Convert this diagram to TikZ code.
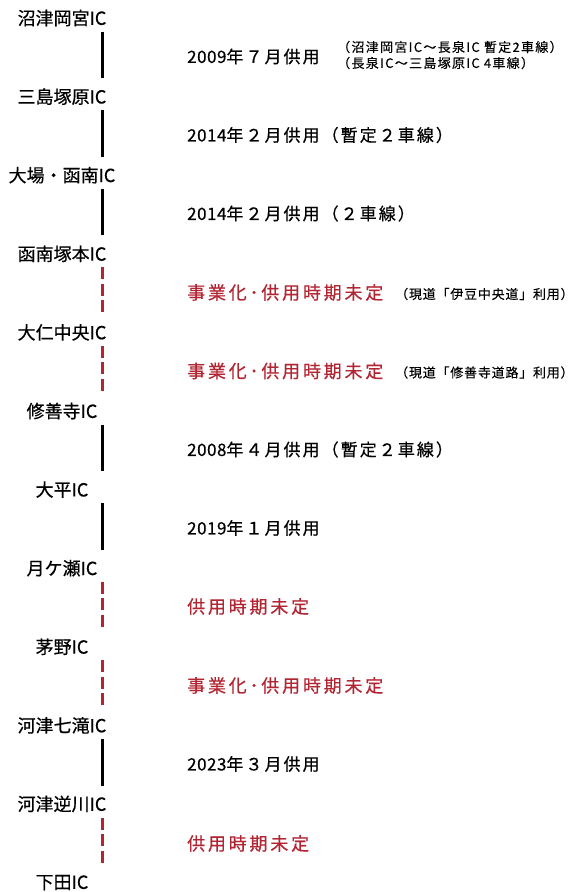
\documentclass[tikz,border=0pt]{standalone}
\usepackage{fontspec}
\setmainfont{Noto Sans CJK JP}
\newfontfamily\jpic[FakeBold=0.5]{Noto Sans CJK JP}
\newfontfamily\jpmain[LetterSpace=12,FakeBold=0.5]{Noto Sans CJK JP}
\newfontfamily\jpdig[LetterSpace=3,FakeBold=0.5]{Noto Sans CJK JP}
\newfontfamily\jpplan[LetterSpace=15.5,FakeBold=0.5]{Noto Sans CJK JP}
\newfontfamily\jpnote[LetterSpace=10,FakeBold=0.3]{Noto Sans CJK JP}
\newfontfamily\jpnoteb[LetterSpace=6,FakeBold=0.3]{Noto Sans CJK JP}
\newcommand{\yr}[1]{{\jpdig #1}}
\definecolor{plan}{RGB}{178,38,52}
\begin{document}
\begin{tikzpicture}[x=1pt,y=-1pt,
  ic/.style={anchor=center,inner sep=0pt,font=\jpic\fontsize{18}{18}\selectfont},
  sect/.style={anchor=west,inner sep=0pt,font=\jpmain\fontsize{17}{17}\selectfont},
  plansect/.style={anchor=west,inner sep=0pt,text=plan,font=\jpplan\fontsize{18}{18}\selectfont},
  note/.style={anchor=west,inner sep=0pt,font=\jpnote\fontsize{13}{13}\selectfont},
  noteb/.style={anchor=west,inner sep=0pt,font=\jpnoteb\fontsize{13}{13}\selectfont},
  done/.style={line width=3pt,black},
  todo/.style={line width=3pt,plan,dash pattern=on 12pt off 4.5pt}]
\useasboundingbox (0,0) rectangle (573,892);
\def\lx{102.5}
\node[ic] (ic1) at (62,18) {沼津岡宮IC};
\node[ic] (ic2) at (62,96.6) {三島塚原IC};
\node[ic] (ic3) at (62,175.2) {大場・函南IC};
\node[ic] (ic4) at (62,253.8) {函南塚本IC};
\node[ic] (ic5) at (62,332.4) {大仁中央IC};
\node[ic] (ic6) at (62,411) {修善寺IC};
\node[ic] (ic7) at (62,489.6) {大平IC};
\node[ic] (ic8) at (62,568.2) {月ケ瀬IC};
\node[ic] (ic9) at (62,646.8) {茅野IC};
\node[ic] (ic10) at (62,725.4) {河津七滝IC};
\node[ic] (ic11) at (62,804) {河津逆川IC};
\node[ic] (ic12) at (62,882.6) {下田IC};
\foreach \i in {1,...,12}{
  \coordinate (b\i) at ([yshift=-13.5pt]ic\i.center -| \lx,0);
  \coordinate (t\i) at ([yshift=18.5pt]ic\i.center -| \lx,0);
}
\draw[done] (b1) -- (t2);
\draw[done] (b2) -- (t3);
\draw[done] (b3) -- (t4);
\draw[todo] (b4) -- (t5);
\draw[todo] (b5) -- (t6);
\draw[done] (b6) -- (t7);
\draw[done] (b7) -- (t8);
\draw[todo] (b8) -- (t9);
\draw[todo] (b9) -- (t10);
\draw[done] (b10) -- (t11);
\draw[todo] (b11) -- (t12);
\node[sect] (s1) at (187,56.5) {\yr{2009}年７月供用};
\node[note] (n1a) at (337,47) {（沼津岡宮IC～長泉IC 暫定2車線）};
\node[note] (n1b) at (337,63) {（長泉IC～三島塚原IC 4車線）};
\node[sect] (s2) at (187,135) {\yr{2014}年２月供用（暫定２車線）};
\node[sect] (s3) at (187,213.5) {\yr{2014}年２月供用（２車線）};
\node[plansect] (s4) at (187,292.5) {事業化･供用時期未定};
\node[noteb] (n4) at (395,294) {（現道「伊豆中央道」利用）};
\node[plansect] (s5) at (187,371) {事業化･供用時期未定};
\node[noteb] (n5) at (395,372.5) {（現道「修善寺道路」利用）};
\node[sect] (s6) at (187,449.5) {\yr{2008}年４月供用（暫定２車線）};
\node[sect] (s7) at (187,528) {\yr{2019}年１月供用};
\node[plansect] (s8) at (187,606.5) {供用時期未定};
\node[plansect] (s9) at (187,685.5) {事業化･供用時期未定};
\node[sect] (s10) at (187,764) {\yr{2023}年３月供用};
\node[plansect] (s11) at (187,843.5) {供用時期未定};
\end{tikzpicture}
\end{document}
